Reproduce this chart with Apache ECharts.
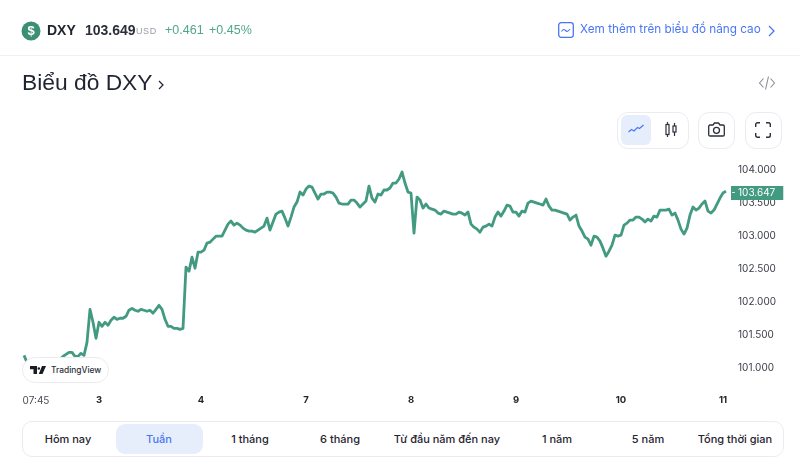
<!DOCTYPE html>
<html>
<head>
<meta charset="utf-8">
<title>DXY</title>
<script src="https://cdn.jsdelivr.net/npm/echarts@6/dist/echarts.min.js"></script>
<style>
  html, body { margin: 0; padding: 0; background: #fff; }
  body { width: 800px; height: 471px; overflow: hidden; position: relative; font-family: Inter, "Noto Sans", sans-serif; color: #1f2430; }
  #box { position: absolute; left: 0; top: 0; width: 800px; height: 471px; }
  .t { position: absolute; white-space: nowrap; line-height: 1; }
  .h { font-family: "Liberation Sans", Arial, sans-serif; }
  .c { transform: translateX(-50%); }
  .btn { position: absolute; box-sizing: border-box; border: 1px solid #ebebf0; border-radius: 11px; background: #fff; }
  svg { position: absolute; overflow: visible; }
</style>
</head>
<body>
<div id="box"></div>

<!-- header -->
<svg style="left:22px;top:22px" width="18" height="18"><circle cx="9" cy="9" r="9.5" fill="#3b8f74"/></svg>
<div class="t c h" style="left:31px;top:24px;font-size:13px;font-weight:700;color:#fff">$</div>
<div class="t h" style="left:47px;top:23px;font-size:14px;font-weight:700">DXY</div>
<div class="t h" style="left:85px;top:23px;font-size:14px;font-weight:700;color:#2b2f3a">103.649</div>
<div class="t h" style="left:136px;top:27px;font-size:9px;color:#9a9ca5;letter-spacing:.6px">USD</div>
<div class="t h" style="left:165px;top:24px;font-size:12.5px;color:#4fa68a">+0.461</div>
<div class="t h" style="left:209px;top:24px;font-size:12.5px;color:#4fa68a">+0.45%</div>
<svg style="left:558px;top:22px" width="16" height="16" fill="none" stroke="#4a76f5" stroke-width="1.3">
  <rect x=".7" y=".7" width="14.6" height="14.6" rx="2.5"/>
  <path d="M3.5 9.5c1.5-2.5 2.5-2.5 4-1s2.5 1 4.500-1.500" stroke-width="1.1"/>
</svg>
<div class="t" style="left:580px;top:24px;font-size:11.75px;color:#4a76f5">Xem thêm trên biểu đồ nâng cao</div>
<svg style="left:768px;top:25px" width="8" height="12" fill="none" stroke="#4a76f5" stroke-width="1.3"><path d="M1 1l5 5-5 5"/></svg>
<div style="position:absolute;left:0;top:55px;width:800px;height:1px;background:#f0f0f3"></div>

<div class="t h" style="left:22px;top:71px;font-size:22.8px;color:#1f2430">Biểu đồ DXY</div>
<svg style="left:158px;top:80px" width="6" height="10" fill="none" stroke="#1f2430" stroke-width="1.2"><path d="M1 1l4 4-4 4"/></svg>
<svg style="left:759px;top:76px" width="16" height="14" fill="none" stroke="#8b8d96" stroke-width="1.1">
  <path d="M4.5 2.5L.5 7l4 4.5M11.500 2.500l4 4.500-4 4.500M9.500 .5L6.500 13.500"/>
</svg>

<!-- toolbar -->
<div class="btn" style="left:617px;top:112px;width:72px;height:37px"></div>
<div style="position:absolute;left:621px;top:115px;width:30px;height:30px;border-radius:6px;background:#e6eefb"></div>
<svg style="left:628px;top:124px" width="16" height="10" fill="none" stroke="#4a76f5" stroke-width="1.2"><path d="M.5 8l3-2.500 2.500 1.500 3.500-3.500 2 1L15.500 1"/></svg>
<svg style="left:665px;top:122px" width="12" height="16" fill="none" stroke="#2b2f3a" stroke-width="1.2">
  <rect x="1" y="2.500" width="3" height="10"/><path d="M2.500 0v2.500M2.500 12.500V15"/>
  <rect x="8" y="4" width="3" height="6"/><path d="M9.500 1v3M9.500 10v4"/>
</svg>
<div class="btn" style="left:698px;top:112px;width:37px;height:37px"></div>
<svg style="left:708px;top:122px" width="17" height="15" fill="none" stroke="#2b2f3a" stroke-width="1.300">
  <path d="M2 3h3l1.500-2h4L12 3h3c.7 0 1.300.6 1.300 1.300v8.400c0 .7-.6 1.300-1.300 1.300H2c-.7 0-1.300-.6-1.300-1.300V4.300C.7 3.600 1.300 3 2 3z"/>
  <circle cx="8.500" cy="8.300" r="3"/>
</svg>
<div class="btn" style="left:745px;top:112px;width:37px;height:37px"></div>
<svg style="left:755px;top:122px" width="16" height="16" fill="none" stroke="#2b2f3a" stroke-width="1.400">
  <path d="M.7 5V2.500C.7 1.500 1.500.7 2.500.7H5M11 .7h2.500c1 0 1.800.8 1.800 1.800V5M15.300 11v2.500c0 1-.8 1.800-1.800 1.800H11M5 15.300H2.500c-1 0-1.800-.8-1.800-1.800V11"/>
</svg>

<!-- TradingView badge -->
<div style="position:absolute;left:22px;top:357px;width:87px;height:26px;box-sizing:border-box;border:1px solid #ebebf0;border-radius:13px;background:#fff"></div>
<svg style="left:30px;top:366px" width="16" height="9" fill="#1a1c24">
  <path d="M0 0h7v8H3.500V3.200H0zM7.500 2.500a1.300 1.300 0 1 0 2.600 0 1.300 1.300 0 1 0-2.600 0zM12 0h4l-3.500 8H8.800z"/>
</svg>
<div class="t" style="left:51px;top:366px;font-size:8.4px;font-weight:500;color:#2b2f3a">TradingView</div>

<!-- range bar -->
<div style="position:absolute;left:22px;top:421px;width:762px;height:36px;box-sizing:border-box;border:1px solid #ebebf0;border-radius:10px;background:#fff"></div>
<div style="position:absolute;left:116px;top:424px;width:87px;height:30px;border-radius:9px;background:#e6eefb"></div>
<div class="t c" style="left:68px;top:434px;font-size:11px;font-weight:500">Hôm nay</div>
<div class="t c" style="left:159px;top:434px;font-size:11px;font-weight:500;color:#4a76f5">Tuần</div>
<div class="t c" style="left:250px;top:434px;font-size:11px;font-weight:500">1 tháng</div>
<div class="t c" style="left:340px;top:434px;font-size:11px;font-weight:500">6 tháng</div>
<div class="t c" style="left:447px;top:434px;font-size:11px;font-weight:500">Từ đầu năm đến nay</div>
<div class="t c" style="left:557px;top:434px;font-size:11px;font-weight:500">1 năm</div>
<div class="t c" style="left:648px;top:434px;font-size:11px;font-weight:500">5 năm</div>
<div class="t c" style="left:735px;top:434px;font-size:11px;font-weight:500">Tổng thời gian</div>

<!-- small dash inside the price tag -->
<div style="position:absolute;left:732px;top:192px;width:3px;height:1px;background:#cfe6de"></div>

<script>
const prices = [
  101.184,101.078,101.047,101.063,101.032,101.047,101.078,101.063,101.047,101.093,
  101.078,101.108,101.124,101.169,101.200,101.230,101.230,101.169,101.169,101.215,
  101.184,101.382,101.884,101.687,101.443,101.687,101.626,101.687,101.641,101.717,
  101.763,101.732,101.748,101.748,101.778,101.870,101.899,101.870,101.854,101.884,
  101.870,101.854,101.870,101.824,101.884,101.945,101.884,101.732,101.626,101.626,
  101.595,101.595,101.580,101.595,102.524,102.463,102.676,102.508,102.752,102.752,
  102.782,102.889,102.904,102.950,102.995,102.995,102.995,103.087,103.178,103.224,
  103.163,103.193,103.163,103.117,103.087,103.072,103.072,103.056,103.087,103.117,
  103.148,103.269,103.087,103.209,103.330,103.361,103.376,103.269,103.148,103.285,
  103.437,103.513,103.665,103.619,103.711,103.756,103.741,103.650,103.559,103.635,
  103.635,103.665,103.665,103.650,103.589,103.498,103.483,103.483,103.483,103.543,
  103.543,103.498,103.437,103.483,103.528,103.756,103.574,103.513,103.635,103.619,
  103.696,103.696,103.726,103.802,103.802,103.863,103.970,103.802,103.665,103.650,
  103.041,103.589,103.543,103.422,103.483,103.422,103.406,103.391,103.346,103.330,
  103.376,103.361,103.346,103.330,103.330,103.361,103.346,103.315,103.361,103.178,
  103.132,103.102,103.056,103.132,103.148,103.178,103.148,103.285,103.361,103.300,
  103.376,103.467,103.452,103.361,103.361,103.300,103.376,103.361,103.498,103.528,
  103.513,103.498,103.483,103.467,103.559,103.452,103.391,103.391,103.376,103.361,
  103.346,103.330,103.239,103.285,103.315,103.148,103.072,102.980,102.950,102.858,
  102.995,102.980,102.919,102.813,102.691,102.767,102.858,103.011,102.995,103.011,
  103.163,103.193,103.239,103.239,103.285,103.285,103.254,103.209,103.254,103.224,
  103.300,103.285,103.391,103.391,103.391,103.406,103.315,103.346,103.239,103.102,
  103.026,103.117,103.315,103.437,103.391,103.422,103.483,103.528,103.376,103.346,
  103.391,103.483,103.574,103.650,103.680
];
const tickPositions = [4, 25, 59, 94, 129, 164, 199, 233];
const tickLabels = ['07:45', '3', '4', '7', '8', '9', '10', '11'];
const lastPrice = 103.647;

const categories = prices.map(function (p, i) {
    const at = tickPositions.indexOf(i);
    return at >= 0 ? tickLabels[at] : '';
});

const chart = echarts.init(document.getElementById('box'), null, {renderer: 'canvas'});

chart.setOption({
    animation: false,
    backgroundColor: 'transparent',
    textStyle: {fontFamily: 'Inter'},
    grid: {left: 24, right: 74, top: 170, bottom: 103.5},
    xAxis: {
        type: 'category',
        boundaryGap: false,
        data: categories,
        axisLine: {show: false},
        axisTick: {show: false},
        splitLine: {show: false},
        axisLabel: {
            margin: 28,
            fontSize: 9.5,
            hideOverlap: false,
            interval: function (i, v) { return v !== ''; },
            formatter: function (v) { return v === '07:45' ? '{time|' + v + '}' : '{day|' + v + '}'; },
            rich: {
                time: {fontSize: 10, color: '#4a4d57', fontFamily: 'Inter'},
                day: {fontSize: 9.5, fontWeight: 700, color: '#23262f', fontFamily: 'Inter'}
            }
        }
    },
    yAxis: {
        type: 'value',
        position: 'right',
        min: 101,
        max: 104,
        interval: 0.5,
        axisLine: {show: false},
        axisTick: {show: false},
        splitLine: {show: false},
        axisLabel: {
            margin: 12,
            fontSize: 10,
            color: '#3a3d47',
            formatter: function (v) { return v.toFixed(3); }
        }
    },
    series: [
        {
            name: 'DXY',
            type: 'line',
            data: prices,
            showSymbol: false,
            symbol: 'none',
            z: 3,
            lineStyle: {color: '#429a80', width: 2.8, join: 'round'},
            markLine: {
                silent: true,
                symbol: 'none',
                animation: false,
                lineStyle: {color: 'transparent', width: 0},
                data: [{yAxis: lastPrice}],
                label: {
                    show: true,
                    position: 'end',
                    distance: 5,
                    formatter: function () { return lastPrice.toFixed(3); },
                    backgroundColor: '#429a80',
                    color: '#fff',
                    fontSize: 10,
                    padding: [2, 8, 2, 7]
                }
            }
        }
    ]
});
</script>
</body>
</html>
